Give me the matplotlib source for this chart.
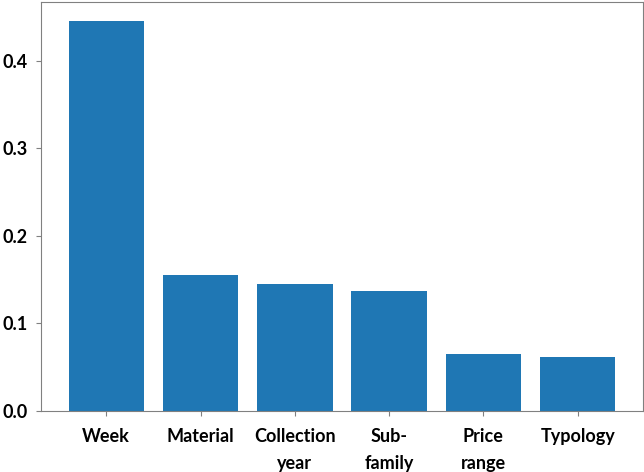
import matplotlib
matplotlib.use("Agg")
import matplotlib.pyplot as plt

features = ["Week", "Material", "Collection\nyear", "Sub-\nfamily", "Price\nrange", "Typology"]
importance = [0.445, 0.1555, 0.1445, 0.1365, 0.0645, 0.0615]
yticks = [0.0, 0.1, 0.2, 0.3, 0.4]

plt.rcParams["font.family"] = ["Lato", "DejaVu Sans"]

fig = plt.figure(figsize=(6.44, 4.72), dpi=100)
ax = fig.add_axes([0.064, 0.13, 0.934, 0.866])
ax.bar(range(len(features)), importance, width=0.8, color="#1f77b4")
ax.set_xticks(range(len(features)))
ax.set_xticklabels(features, fontsize=13, fontweight="bold", linespacing=1.7)
ax.set_yticks(yticks)
ax.set_yticklabels([f"{v:.1f}" for v in yticks], fontsize=13, fontweight="bold")
for s in ax.spines.values():
    s.set_color("#808080")
ax.tick_params(axis="x", color="#808080", pad=9)
ax.tick_params(axis="y", color="#808080", pad=6)
fig.savefig("out.png", dpi=100)
